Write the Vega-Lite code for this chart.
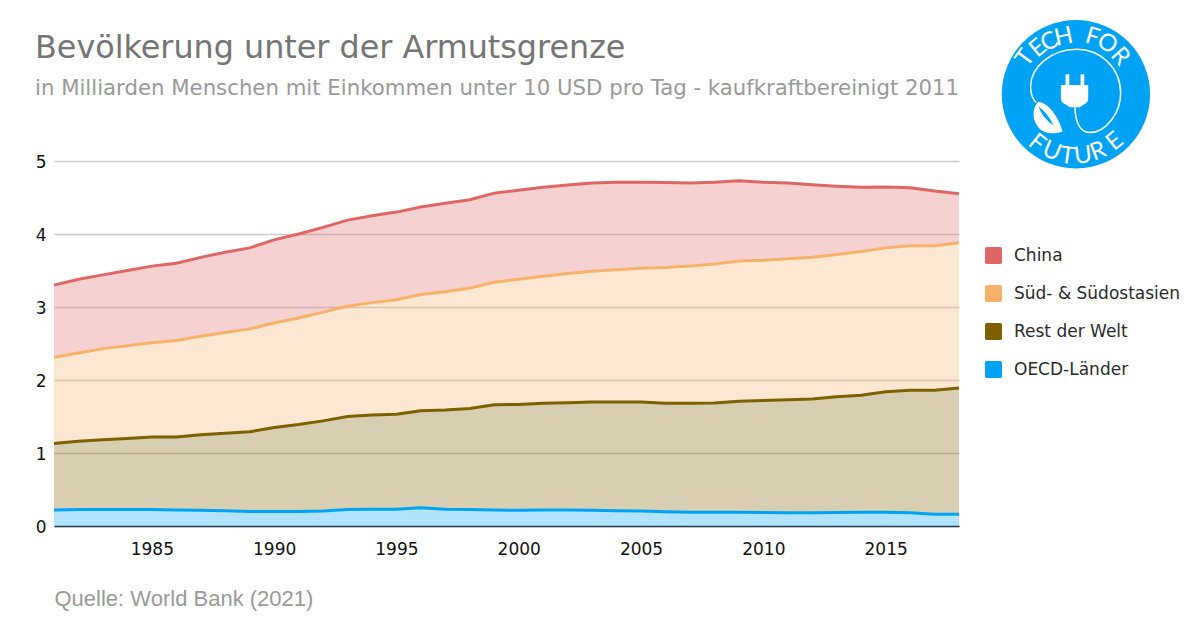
{
"$schema":"https://vega.github.io/schema/vega-lite/v6.json",
"width":905,"height":365,
"autosize":{"type":"none"},
"padding":{"left":54,"top":161,"right":241,"bottom":104},
"background":"#ffffff",
"title":{"text":"Bevölkerung unter der Armutsgrenze","subtitle":"in Milliarden Menschen mit Einkommen unter 10 USD pro Tag - kaufkraftbereinigt 2011","anchor":"start","frame":"group","dx":-19,"offset":-79,"font":"DejaVu Sans","fontSize":31.8,"fontWeight":"normal","color":"#757575","subtitleFont":"DejaVu Sans","subtitleFontSize":21.25,"subtitleColor":"#999999","subtitlePadding":13},
"datasets":{
"series":[
{"year":1981,"Region":"China","value":3.30,"base":2.31},{"year":1981,"Region":"Süd- & Südostasien","value":2.31,"base":1.13},{"year":1981,"Region":"Rest der Welt","value":1.13,"base":0.22},{"year":1981,"Region":"OECD-Länder","value":0.22,"base":0},
{"year":1982,"Region":"China","value":3.38,"base":2.37},{"year":1982,"Region":"Süd- & Südostasien","value":2.37,"base":1.16},{"year":1982,"Region":"Rest der Welt","value":1.16,"base":0.225},{"year":1982,"Region":"OECD-Länder","value":0.225,"base":0},
{"year":1983,"Region":"China","value":3.44,"base":2.43},{"year":1983,"Region":"Süd- & Südostasien","value":2.43,"base":1.18},{"year":1983,"Region":"Rest der Welt","value":1.18,"base":0.225},{"year":1983,"Region":"OECD-Länder","value":0.225,"base":0},
{"year":1984,"Region":"China","value":3.50,"base":2.47},{"year":1984,"Region":"Süd- & Südostasien","value":2.47,"base":1.20},{"year":1984,"Region":"Rest der Welt","value":1.20,"base":0.225},{"year":1984,"Region":"OECD-Länder","value":0.225,"base":0},
{"year":1985,"Region":"China","value":3.56,"base":2.51},{"year":1985,"Region":"Süd- & Südostasien","value":2.51,"base":1.22},{"year":1985,"Region":"Rest der Welt","value":1.22,"base":0.225},{"year":1985,"Region":"OECD-Länder","value":0.225,"base":0},
{"year":1986,"Region":"China","value":3.60,"base":2.54},{"year":1986,"Region":"Süd- & Südostasien","value":2.54,"base":1.22},{"year":1986,"Region":"Rest der Welt","value":1.22,"base":0.22},{"year":1986,"Region":"OECD-Länder","value":0.22,"base":0},
{"year":1987,"Region":"China","value":3.68,"base":2.60},{"year":1987,"Region":"Süd- & Südostasien","value":2.60,"base":1.25},{"year":1987,"Region":"Rest der Welt","value":1.25,"base":0.215},{"year":1987,"Region":"OECD-Länder","value":0.215,"base":0},
{"year":1988,"Region":"China","value":3.75,"base":2.65},{"year":1988,"Region":"Süd- & Südostasien","value":2.65,"base":1.27},{"year":1988,"Region":"Rest der Welt","value":1.27,"base":0.21},{"year":1988,"Region":"OECD-Länder","value":0.21,"base":0},
{"year":1989,"Region":"China","value":3.81,"base":2.70},{"year":1989,"Region":"Süd- & Südostasien","value":2.70,"base":1.29},{"year":1989,"Region":"Rest der Welt","value":1.29,"base":0.20},{"year":1989,"Region":"OECD-Länder","value":0.20,"base":0},
{"year":1990,"Region":"China","value":3.92,"base":2.78},{"year":1990,"Region":"Süd- & Südostasien","value":2.78,"base":1.35},{"year":1990,"Region":"Rest der Welt","value":1.35,"base":0.20},{"year":1990,"Region":"OECD-Länder","value":0.20,"base":0},
{"year":1991,"Region":"China","value":4.00,"base":2.85},{"year":1991,"Region":"Süd- & Südostasien","value":2.85,"base":1.39},{"year":1991,"Region":"Rest der Welt","value":1.39,"base":0.20},{"year":1991,"Region":"OECD-Länder","value":0.20,"base":0},
{"year":1992,"Region":"China","value":4.09,"base":2.93},{"year":1992,"Region":"Süd- & Südostasien","value":2.93,"base":1.44},{"year":1992,"Region":"Rest der Welt","value":1.44,"base":0.205},{"year":1992,"Region":"OECD-Länder","value":0.205,"base":0},
{"year":1993,"Region":"China","value":4.19,"base":3.01},{"year":1993,"Region":"Süd- & Südostasien","value":3.01,"base":1.50},{"year":1993,"Region":"Rest der Welt","value":1.50,"base":0.225},{"year":1993,"Region":"OECD-Länder","value":0.225,"base":0},
{"year":1994,"Region":"China","value":4.25,"base":3.06},{"year":1994,"Region":"Süd- & Südostasien","value":3.06,"base":1.52},{"year":1994,"Region":"Rest der Welt","value":1.52,"base":0.23},{"year":1994,"Region":"OECD-Länder","value":0.23,"base":0},
{"year":1995,"Region":"China","value":4.30,"base":3.10},{"year":1995,"Region":"Süd- & Südostasien","value":3.10,"base":1.53},{"year":1995,"Region":"Rest der Welt","value":1.53,"base":0.23},{"year":1995,"Region":"OECD-Länder","value":0.23,"base":0},
{"year":1996,"Region":"China","value":4.37,"base":3.17},{"year":1996,"Region":"Süd- & Südostasien","value":3.17,"base":1.58},{"year":1996,"Region":"Rest der Welt","value":1.58,"base":0.25},{"year":1996,"Region":"OECD-Länder","value":0.25,"base":0},
{"year":1997,"Region":"China","value":4.42,"base":3.21},{"year":1997,"Region":"Süd- & Südostasien","value":3.21,"base":1.59},{"year":1997,"Region":"Rest der Welt","value":1.59,"base":0.23},{"year":1997,"Region":"OECD-Länder","value":0.23,"base":0},
{"year":1998,"Region":"China","value":4.47,"base":3.26},{"year":1998,"Region":"Süd- & Südostasien","value":3.26,"base":1.61},{"year":1998,"Region":"Rest der Welt","value":1.61,"base":0.225},{"year":1998,"Region":"OECD-Länder","value":0.225,"base":0},
{"year":1999,"Region":"China","value":4.56,"base":3.34},{"year":1999,"Region":"Süd- & Südostasien","value":3.34,"base":1.66},{"year":1999,"Region":"Rest der Welt","value":1.66,"base":0.22},{"year":1999,"Region":"OECD-Länder","value":0.22,"base":0},
{"year":2000,"Region":"China","value":4.60,"base":3.38},{"year":2000,"Region":"Süd- & Südostasien","value":3.38,"base":1.665},{"year":2000,"Region":"Rest der Welt","value":1.665,"base":0.215},{"year":2000,"Region":"OECD-Länder","value":0.215,"base":0},
{"year":2001,"Region":"China","value":4.64,"base":3.42},{"year":2001,"Region":"Süd- & Südostasien","value":3.42,"base":1.68},{"year":2001,"Region":"Rest der Welt","value":1.68,"base":0.22},{"year":2001,"Region":"OECD-Länder","value":0.22,"base":0},
{"year":2002,"Region":"China","value":4.67,"base":3.46},{"year":2002,"Region":"Süd- & Südostasien","value":3.46,"base":1.69},{"year":2002,"Region":"Rest der Welt","value":1.69,"base":0.22},{"year":2002,"Region":"OECD-Länder","value":0.22,"base":0},
{"year":2003,"Region":"China","value":4.70,"base":3.49},{"year":2003,"Region":"Süd- & Südostasien","value":3.49,"base":1.70},{"year":2003,"Region":"Rest der Welt","value":1.70,"base":0.215},{"year":2003,"Region":"OECD-Länder","value":0.215,"base":0},
{"year":2004,"Region":"China","value":4.71,"base":3.51},{"year":2004,"Region":"Süd- & Südostasien","value":3.51,"base":1.70},{"year":2004,"Region":"Rest der Welt","value":1.70,"base":0.21},{"year":2004,"Region":"OECD-Länder","value":0.21,"base":0},
{"year":2005,"Region":"China","value":4.71,"base":3.53},{"year":2005,"Region":"Süd- & Südostasien","value":3.53,"base":1.70},{"year":2005,"Region":"Rest der Welt","value":1.70,"base":0.205},{"year":2005,"Region":"OECD-Länder","value":0.205,"base":0},
{"year":2006,"Region":"China","value":4.705,"base":3.54},{"year":2006,"Region":"Süd- & Südostasien","value":3.54,"base":1.68},{"year":2006,"Region":"Rest der Welt","value":1.68,"base":0.195},{"year":2006,"Region":"OECD-Länder","value":0.195,"base":0},
{"year":2007,"Region":"China","value":4.70,"base":3.56},{"year":2007,"Region":"Süd- & Südostasien","value":3.56,"base":1.68},{"year":2007,"Region":"Rest der Welt","value":1.68,"base":0.19},{"year":2007,"Region":"OECD-Länder","value":0.19,"base":0},
{"year":2008,"Region":"China","value":4.71,"base":3.59},{"year":2008,"Region":"Süd- & Südostasien","value":3.59,"base":1.685},{"year":2008,"Region":"Rest der Welt","value":1.685,"base":0.19},{"year":2008,"Region":"OECD-Länder","value":0.19,"base":0},
{"year":2009,"Region":"China","value":4.73,"base":3.63},{"year":2009,"Region":"Süd- & Südostasien","value":3.63,"base":1.71},{"year":2009,"Region":"Rest der Welt","value":1.71,"base":0.19},{"year":2009,"Region":"OECD-Länder","value":0.19,"base":0},
{"year":2010,"Region":"China","value":4.71,"base":3.64},{"year":2010,"Region":"Süd- & Südostasien","value":3.64,"base":1.72},{"year":2010,"Region":"Rest der Welt","value":1.72,"base":0.185},{"year":2010,"Region":"OECD-Länder","value":0.185,"base":0},
{"year":2011,"Region":"China","value":4.70,"base":3.66},{"year":2011,"Region":"Süd- & Südostasien","value":3.66,"base":1.73},{"year":2011,"Region":"Rest der Welt","value":1.73,"base":0.18},{"year":2011,"Region":"OECD-Länder","value":0.18,"base":0},
{"year":2012,"Region":"China","value":4.675,"base":3.68},{"year":2012,"Region":"Süd- & Südostasien","value":3.68,"base":1.74},{"year":2012,"Region":"Rest der Welt","value":1.74,"base":0.18},{"year":2012,"Region":"OECD-Länder","value":0.18,"base":0},
{"year":2013,"Region":"China","value":4.655,"base":3.72},{"year":2013,"Region":"Süd- & Südostasien","value":3.72,"base":1.77},{"year":2013,"Region":"Rest der Welt","value":1.77,"base":0.185},{"year":2013,"Region":"OECD-Länder","value":0.185,"base":0},
{"year":2014,"Region":"China","value":4.64,"base":3.76},{"year":2014,"Region":"Süd- & Südostasien","value":3.76,"base":1.79},{"year":2014,"Region":"Rest der Welt","value":1.79,"base":0.19},{"year":2014,"Region":"OECD-Länder","value":0.19,"base":0},
{"year":2015,"Region":"China","value":4.645,"base":3.81},{"year":2015,"Region":"Süd- & Südostasien","value":3.81,"base":1.84},{"year":2015,"Region":"Rest der Welt","value":1.84,"base":0.19},{"year":2015,"Region":"OECD-Länder","value":0.19,"base":0},
{"year":2016,"Region":"China","value":4.635,"base":3.84},{"year":2016,"Region":"Süd- & Südostasien","value":3.84,"base":1.86},{"year":2016,"Region":"Rest der Welt","value":1.86,"base":0.18},{"year":2016,"Region":"OECD-Länder","value":0.18,"base":0},
{"year":2017,"Region":"China","value":4.59,"base":3.84},{"year":2017,"Region":"Süd- & Südostasien","value":3.84,"base":1.86},{"year":2017,"Region":"Rest der Welt","value":1.86,"base":0.16},{"year":2017,"Region":"OECD-Länder","value":0.16,"base":0},
{"year":2018,"Region":"China","value":4.55,"base":3.88},{"year":2018,"Region":"Süd- & Südostasien","value":3.88,"base":1.89},{"year":2018,"Region":"Rest der Welt","value":1.89,"base":0.16},{"year":2018,"Region":"OECD-Länder","value":0.16,"base":0}
],
"logo":[{"year":2022.78,"value":5.914}],
"letters":[
{"year":2020.72,"value":6.409,"ch":"T","rot":-54},
{"year":2021.24,"value":6.541,"ch":"E","rot":-39.5},
{"year":2021.70,"value":6.628,"ch":"C","rot":-27},
{"year":2022.28,"value":6.694,"ch":"H","rot":-12},
{"year":2023.46,"value":6.694,"ch":"F","rot":16},
{"year":2024.05,"value":6.607,"ch":"O","rot":31.5},
{"year":2024.58,"value":6.43,"ch":"R","rot":49},
{"year":2021.18,"value":5.242,"ch":"F","rot":39},
{"year":2021.79,"value":5.129,"ch":"U","rot":23},
{"year":2022.43,"value":5.060,"ch":"T","rot":8},
{"year":2023.08,"value":5.068,"ch":"U","rot":-7},
{"year":2023.69,"value":5.129,"ch":"R","rot":-21},
{"year":2024.38,"value":5.266,"ch":"E","rot":-39}
]
},
"encoding":{
"x":{"field":"year","type":"quantitative","scale":{"domain":[1981,2018],"nice":false,"zero":false},
"axis":{"values":[1985,1990,1995,2000,2005,2010,2015],"format":"d","grid":false,"ticks":false,"domain":true,"domainColor":"#2b3a4a","domainWidth":1.5,"labelFont":"DejaVu Sans","labelFontSize":17,"labelColor":"#111111","labelPadding":15,"title":"Quelle: World Bank (2021)","titleFont":"Liberation Sans","titleFontSize":22,"titleFontWeight":"normal","titleColor":"#9a9a9a","titleAnchor":"start","titleAlign":"left","titleX":0,"titleY":62}},
"y":{"field":"value","type":"quantitative","scale":{"domain":[0,5],"nice":false},
"axis":{"values":[0,1,2,3,4,5],"title":null,"grid":true,"gridColor":"#cccccc","gridWidth":1.5,"ticks":false,"domain":false,"labelFont":"DejaVu Sans","labelFontSize":17,"labelColor":"#111111","labelPadding":8,"labelOffset":1.5}}
},
"layer":[
{"data":{"name":"series"},
"mark":{"type":"area","opacity":0.3},
"encoding":{"y2":{"field":"base"},
"color":{"field":"Region","type":"nominal","scale":{"domain":["China","Süd- & Südostasien","Rest der Welt","OECD-Länder"],"range":["#e06666","#f6b26b","#7f6000","#00a2f5"]},
"legend":{"title":null,"orient":"none","legendX":931,"legendY":86,"symbolType":"M-1 -0.8Q-1 -1 -0.8 -1L0.8 -1Q1 -1 1 -0.8L1 0.8Q1 1 0.8 1L-0.8 1Q-1 1 -1 0.8Z","symbolSize":289,"symbolStrokeWidth":0,"symbolOpacity":1,"labelFont":"DejaVu Sans","labelFontSize":17,"labelColor":"#2a2a2a","labelOffset":12,"rowPadding":20,"labelLimit":220}}}},
{"data":{"name":"series"},
"mark":{"type":"line","strokeWidth":3},
"encoding":{"color":{"field":"Region","type":"nominal","legend":null}}},
{"data":{"name":"logo"},"mark":{"type":"point","filled":true,"shape":"circle","size":22000,"color":"#00a2f5","opacity":1}},
{"data":{"name":"logo"},"mark":{"type":"point","filled":true,"color":"#ffffff","opacity":1,"size":22500,"shape":"M-0.138 -0.267L-0.089 -0.267L-0.089 -0.124L0.062 -0.124L0.062 -0.267L0.111 -0.267L0.111 -0.124L0.164 -0.124L0.164 0.06Q0.164 0.11 0.1 0.14L0.053 0.173L-0.08 0.173L-0.13 0.14Q-0.2 0.11 -0.2 0.06L-0.2 -0.124L-0.138 -0.124ZM-0.5 0.1C-0.35 0.12 -0.22 0.33 -0.178 0.498C-0.3 0.53 -0.46 0.55 -0.54 0.38C-0.59 0.28 -0.56 0.15 -0.5 0.1ZM-0.5 0.16Q-0.44 0.33 -0.3 0.41Q-0.38 0.25 -0.5 0.16Z"}},
{"data":{"name":"logo"},"mark":{"type":"point","filled":false,"stroke":"#ffffff","strokeWidth":1.5,"opacity":1,"size":22500,"shape":"M-0.013 0.173C-0.01 0.32 0.03 0.51 0.187 0.511C0.4 0.51 0.596 0.25 0.596 -0.013C0.596 -0.35 0.33 -0.6 0.009 -0.6C-0.33 -0.6 -0.604 -0.36 -0.604 -0.102C-0.604 -0.02 -0.59 0.05 -0.53 0.11"}},
{"data":{"name":"letters"},"mark":{"type":"text","font":"Lato","fontSize":24,"fontWeight":400,"color":"#ffffff","align":"center","baseline":"middle"},"encoding":{"text":{"field":"ch"},"angle":{"field":"rot","type":"quantitative","scale":null}}}
],
"config":{"view":{"stroke":null}}
}
